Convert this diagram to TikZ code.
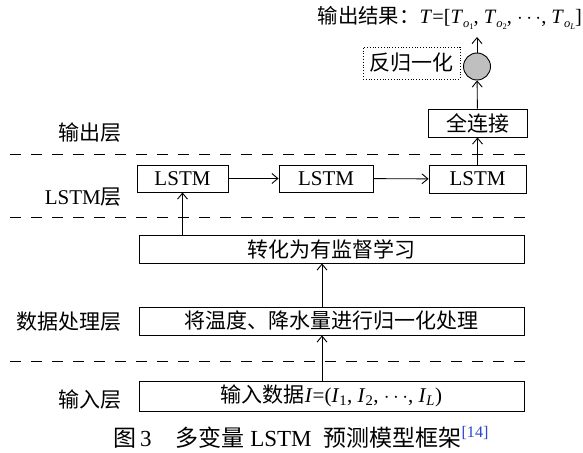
\documentclass[tikz,border=0pt]{standalone}
\usepackage{fontspec}
\setmainfont{Liberation Serif}
\newfontfamily\cjk{Noto Sans CJK SC}
\usetikzlibrary{arrows.meta}
\definecolor{refblue}{RGB}{40,70,210}
\newcommand\Tsub[1]{\textit{T}\raisebox{-0.45ex}{\fontsize{12.5}{12.5}\selectfont\textit{o}\raisebox{-0.35ex}{\fontsize{8.5}{8.5}\selectfont #1}}}
\begin{document}
\begin{tikzpicture}[x=1pt,y=-1pt,
  big/.style={font=\fontsize{21}{24}\selectfont},
  box/.style={draw, line width=0.9pt, inner sep=0pt, big},
  lab/.style={anchor=east, inner sep=0pt, big},
  arr/.style={-{Straight Barb[length=6pt,width=10pt]}, line width=0.9pt},
  sep/.style={dash pattern=on 11pt off 10pt, line width=0.9pt}]
\useasboundingbox (0,0) rectangle (583,452);
% separators
\draw[sep] (10,154) -- (532,154);
\draw[sep] (10,217) -- (532,217);
\draw[sep] (10,361) -- (532,361);
% layer labels
\node[lab] (lo) at (122,133) {\cjk 输出层};
\node[lab] (ll) at (122,197) {LSTM{\cjk 层}};
\node[lab] (ld) at (122,322) {\cjk 数据处理层};
\node[lab] (li) at (122,400) {\cjk 输入层};
% LSTM layer
\node[box, minimum width=91pt, minimum height=27pt] (l1) at (182.5,178.5) {LSTM};
\node[box, minimum width=94pt, minimum height=27pt] (l2) at (326,178.5) {LSTM};
\node[box, minimum width=97pt, minimum height=28pt] (l3) at (477.5,179) {LSTM};
% output layer
\node[box, minimum width=99pt, minimum height=28pt] (fc) at (477.5,123) {\cjk 全连接};
\node[circle, draw, fill=gray!50, minimum size=27pt, inner sep=0pt, line width=0.9pt] (c) at (477,66.5) {};
\node[draw, dotted, line width=0.8pt, minimum width=97pt, minimum height=32pt, inner sep=0pt, big] (dn) at (411.5,63) {\cjk 反归一化};
\node[anchor=east, inner sep=0pt, font=\fontsize{20.4}{23}\selectfont] (title) at (582,18)
  {{\cjk 输出结果：}\textit{T}=[\Tsub{1}, \Tsub{2}, $\cdots$, \Tsub{\textit{L}}]};
\coordinate (tp) at (477,37);
% data processing
\node[box, minimum width=385pt, minimum height=28pt] (zh) at (331.5,249) {\cjk 转化为有监督学习};
\node[box, minimum width=385pt, minimum height=28pt] (gy) at (331.5,321) {\cjk 将温度、降水量进行归一化处理};
% input
\node[box, minimum width=385pt, minimum height=30pt] (in) at (331.5,396)
  {{\cjk 输入数据}\textit{I}=(\textit{I}\textsubscript{1}, \textit{I}\textsubscript{2}, $\cdots$, \textit{I}\textsubscript{\textit{L}})};
% caption
\node[anchor=west, inner sep=0pt, font=\fontsize{23}{26}\selectfont] (cap) at (113,437)
  {{\cjk 图}\,3\hspace{24pt}{\cjk 多变量} LSTM\hspace{12pt}{\cjk 预测模型框架}\textsuperscript{\textcolor{refblue}{[14]}}};
% connectors
\draw[arr] (l1) -- (l2);
\draw[arr] (l2) -- (l3);
\draw[arr] (l3) -- (fc);
\draw[arr] (fc) -- (c);
\draw[arr] (c) -- (tp);
\draw[arr] (zh.north -| l1.south) -- (l1.south);
\draw[arr] ([xshift=-9.5pt]gy.north) -- ([xshift=-9.5pt]zh.south);
\draw[arr] ([xshift=-9.5pt]in.north) -- ([xshift=-9.5pt]gy.south);
\end{tikzpicture}
\end{document}
